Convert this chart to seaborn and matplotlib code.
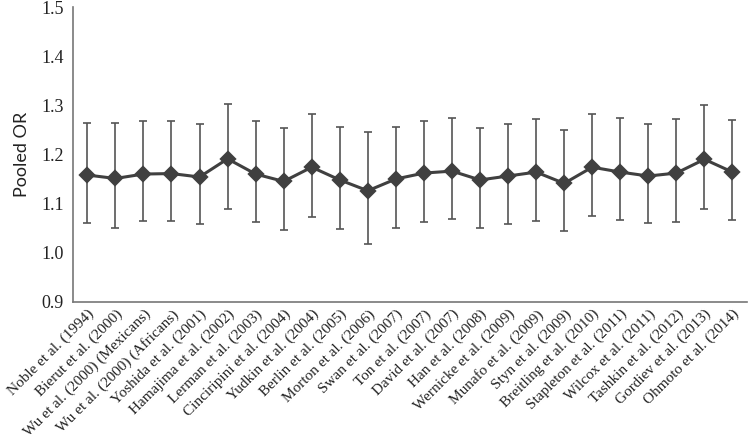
import numpy as np
import matplotlib
matplotlib.use('Agg')
import matplotlib.pyplot as plt
import seaborn as sns
import pandas as pd

studies = [
    'Noble et al. (1994)', 'Bierut et al. (2000)', 'Wu et al. (2000) (Mexicans)',
    'Wu et al. (2000) (Africans)', 'Yoshida et al. (2001)', 'Hamajima et al. (2002)',
    'Lerman et al. (2003)', 'Cinciripini et al. (2004)', 'Yudkin et al. (2004)',
    'Berlin et al. (2005)', 'Morton et al. (2006)', 'Swan et al. (2007)',
    'Ton et al. (2007)', 'David et al. (2007)', 'Han et al. (2008)',
    'Wernicke et al. (2009)', 'Munafo et al. (2009)', 'Styn et al. (2009)',
    'Breitling et al. (2010)', 'Stapleton et al. (2011)', 'Wilcox et al. (2011)',
    'Tashkin et al. (2012)', 'Gordiev et al. (2013)', 'Ohmoto et al. (2014)',
]
pooled_or = [1.158, 1.151, 1.160, 1.161, 1.154, 1.191, 1.160, 1.145, 1.174, 1.148,
             1.126, 1.150, 1.162, 1.166, 1.148, 1.156, 1.164, 1.141, 1.174, 1.164,
             1.156, 1.162, 1.190, 1.164]
ci_upper = [1.264, 1.264, 1.268, 1.268, 1.262, 1.302, 1.268, 1.254, 1.283, 1.256,
            1.245, 1.256, 1.269, 1.274, 1.254, 1.262, 1.272, 1.249, 1.283, 1.275,
            1.262, 1.273, 1.301, 1.271]
ci_lower = [1.061, 1.050, 1.064, 1.064, 1.058, 1.089, 1.062, 1.047, 1.073, 1.049,
            1.017, 1.051, 1.062, 1.068, 1.050, 1.059, 1.065, 1.043, 1.075, 1.066,
            1.060, 1.062, 1.089, 1.066]

df = pd.DataFrame({'study': studies, 'or': pooled_or, 'lo': ci_lower, 'hi': ci_upper})

sns.set_style('white')
plt.rcParams['font.family'] = ['Liberation Serif', 'DejaVu Serif']

fig = plt.figure(figsize=(7.48, 4.45), dpi=100)
ax = fig.add_axes([0.098, 0.322, 0.9, 0.662])

x = np.arange(len(df))
ax.errorbar(x, df['or'], yerr=[df['or'] - df['lo'], df['hi'] - df['or']],
            fmt='none', ecolor='#555555', elinewidth=1.2, capsize=3, capthick=1.2, zorder=1)
sns.pointplot(data=df, x='study', y='or', markers='D', color='#404040',
              linewidth=2.2, markersize=7.5, ax=ax, zorder=3)

ax.set_xlim(-0.5, len(df) - 0.5)
ax.set_ylim(0.9, 1.5)
ax.set_yticks([0.9, 1.0, 1.1, 1.2, 1.3, 1.4, 1.5])
ax.set_yticklabels(['0.9', '1.0', '1.1', '1.2', '1.3', '1.4', '1.5'], fontsize=13, color='#222222')
ax.set_xticks(x)
ax.set_xticklabels(studies, rotation=45, ha='right', rotation_mode='anchor',
                   fontsize=11, color='#222222')
ax.set_xticks(np.arange(-0.5, len(df), 1), minor=True)
ax.tick_params(axis='x', which='major', length=0, pad=4)
ax.tick_params(axis='x', which='minor', length=4, color='#777777', direction='out')
ax.tick_params(axis='y', length=4, color='#777777', direction='out', pad=3)
ax.set_xlabel('')
ax.set_ylabel('Pooled OR', fontsize=13, family=['Lato', 'DejaVu Sans'], color='#222222', labelpad=8)

sns.despine(ax=ax)
for s in ['left', 'bottom']:
    ax.spines[s].set_color('#777777')
    ax.spines[s].set_linewidth(1.2)

fig.savefig('out.png', dpi=100)
